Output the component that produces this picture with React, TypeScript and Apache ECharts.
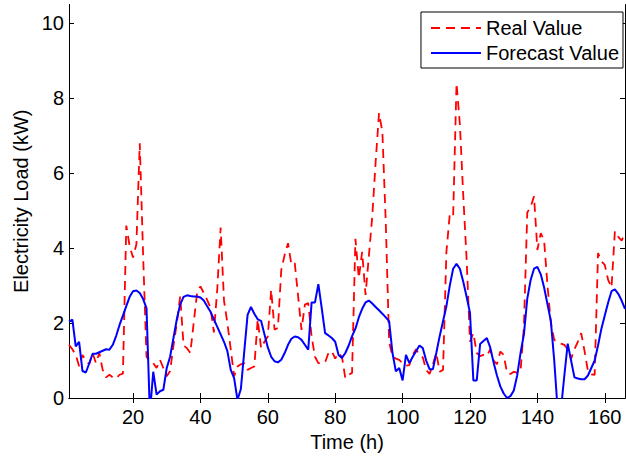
import React, { useEffect, useRef } from "react";
import * as echarts from "echarts";

const hours: number[] = Array.from({ length: 166 }, (_, i) => i + 1);

const realValue: number[] = [
  1.42, 1.3, 1.15, 0.85, 1.15, 1.0, 0.9, 1.2, 0.93, 1.2,
  0.75, 0.55, 0.62, 0.55, 0.52, 0.62, 0.65, 4.6, 4.05, 3.75,
  4.1, 6.8, 3.8, 1.1, 1.0, 0.93, 0.8, 1.02, 0.8, 0.58,
  0.72, 1.4, 2.0, 2.72, 1.4, 1.33, 1.2, 2.0, 2.8, 2.98,
  2.8, 2.62, 2.4, 1.75, 2.9, 4.55, 2.6, 2.0, 1.3, 0.58,
  0.84, 0.9, 0.93, 0.75, 0.8, 0.84, 2.1, 1.33, 1.5, 1.64,
  2.89, 1.82, 1.87, 3.42, 3.82, 4.13, 3.56, 3.6, 2.71, 1.82,
  2.49, 2.53, 1.64, 1.1, 0.93, 0.93, 0.95, 1.2, 1.25, 1.05,
  1.2, 1.1, 0.53, 0.62, 0.67, 4.25, 3.2, 3.9, 2.75, 3.8,
  4.85, 6.3, 7.6, 7.1, 4.7, 1.5, 1.1, 1.05, 1.02, 0.92,
  0.86, 0.88, 1.15, 1.3, 1.15, 1.08, 0.75, 0.64, 0.9, 1.2,
  0.7, 0.75, 3.9, 4.9, 4.85, 8.4, 7.3, 5.4, 3.7, 1.5,
  1.73, 1.2, 1.12, 1.15, 1.12, 1.3, 1.0, 0.9, 1.24, 1.15,
  0.67, 0.64, 0.7, 0.68, 0.72, 1.9, 4.95, 5.1, 5.38, 3.95,
  4.4, 4.2, 3.0, 2.0, 1.55, 1.5, 1.45, 1.42, 1.3, 1.05,
  1.3, 1.5, 1.73, 1.25, 0.72, 0.63, 0.62, 3.87, 3.65, 3.55,
  3.15, 2.95, 4.45, 4.3, 4.2, 4.4,
];

const forecastValue: number[] = [
  2.04, 2.09, 1.38, 1.5, 0.72, 0.68, 0.92, 1.18, 1.18, 1.22,
  1.26, 1.3, 1.29, 1.42, 1.66, 1.95, 2.2, 2.45, 2.7, 2.85,
  2.87, 2.8, 2.64, 2.4, -0.4, 0.7, 0.09, 0.18, 0.22, 0.8,
  1.1, 1.6, 2.1, 2.5, 2.7, 2.74, 2.72, 2.71, 2.71, 2.68,
  2.6, 2.45, 2.3, 2.1, 1.9, 1.7, 1.5, 1.25, 0.75, 0.53,
  -0.05, 0.24, 1.23, 2.22, 2.43, 2.25, 2.1, 2.06, 1.7, 1.35,
  1.1, 0.98, 0.95, 1.02, 1.2, 1.42, 1.58, 1.64, 1.62, 1.55,
  1.42, 1.29, 2.55, 2.55, 3.04, 2.4, 1.73, 1.67, 1.6, 1.5,
  1.15, 1.07, 1.2, 1.4, 1.65, 1.85, 2.15, 2.38, 2.55, 2.6,
  2.52, 2.43, 2.34, 2.25, 2.15, 2.05, 1.2, 0.71, 0.8, 0.47,
  1.15, 0.93, 1.1, 1.25, 1.4, 1.33, 1.0, 0.77, 0.77, 1.2,
  1.65, 2.05, 2.45, 3.0, 3.45, 3.58, 3.45, 3.1, 2.7, 2.27,
  0.47, 0.47, 1.44, 1.52, 1.6, 1.35, 0.95, 0.6, 0.31, 0.12,
  0.0, 0.05, 0.2, 0.6, 1.2, 1.7, 2.65, 3.15, 3.45, 3.5,
  3.3, 2.95, 2.5, 2.05, 1.0, -0.3, -0.3, 0.6, 1.45, 1.0,
  0.55, 0.52, 0.5, 0.5, 0.6, 0.8, 1.0, 1.4, 1.85, 2.2,
  2.55, 2.85, 2.9, 2.78, 2.6, 2.38,
];

const xTicks: number[] = [20, 40, 60, 80, 100, 120, 140, 160];
const yTicks: number[] = [0, 2, 4, 6, 8, 10];

const FONT = "Liberation Sans, Arial, Helvetica, sans-serif";
const FS = 20;

export default function App() {
  const ref = useRef<HTMLDivElement>(null);

  useEffect(() => {
    document.body.style.margin = "0";
    if (!ref.current) return;
    const chart = echarts.init(ref.current, undefined, { renderer: "svg" });
    const axisLine = { show: true, lineStyle: { color: "#000", width: 1 } };
    chart.setOption({
      animation: false,
      backgroundColor: "#fff",
      textStyle: { fontFamily: FONT },
      grid: {
        left: 69,
        right: 1,
        top: 4.5,
        bottom: 59,
        outerBoundsMode: "none",
      },
      legend: {
        orient: "vertical",
        right: 3,
        top: 12,
        backgroundColor: "#fff",
        borderColor: "#000",
        borderWidth: 1,
        borderRadius: 0,
        padding: [6, 4, 5, 9],
        itemWidth: 50,
        itemHeight: 14,
        itemGap: 5,
        itemStyle: { opacity: 0 },
        textStyle: { fontSize: FS, color: "#000", fontFamily: FONT },
        data: ["Real Value", "Forecast Value"],
      },
      xAxis: [
        {
          type: "value",
          min: 1,
          max: 166,
          position: "bottom",
          axisLine,
          splitLine: { show: false },
          axisTick: {
            show: true,
            inside: true,
            length: 5,
            lineStyle: { color: "#000" },
            customValues: xTicks,
          },
          axisLabel: {
            show: true,
            fontSize: FS,
            color: "#000",
            fontFamily: FONT,
            margin: 9,
            customValues: xTicks,
          },
          name: "Time (h)",
          nameLocation: "middle",
          nameGap: 30,
          nameTextStyle: { fontSize: FS, color: "#000", fontFamily: FONT },
        },
        {
          type: "value",
          min: 1,
          max: 166,
          position: "top",
          axisLine,
          splitLine: { show: false },
          axisTick: {
            show: true,
            inside: true,
            length: 5,
            lineStyle: { color: "#000" },
            customValues: xTicks,
          },
          axisLabel: { show: false },
        },
      ],
      yAxis: [
        {
          type: "value",
          min: 0,
          max: 10.5,
          position: "left",
          axisLine,
          splitLine: { show: false },
          axisTick: {
            show: true,
            inside: true,
            length: 5,
            lineStyle: { color: "#000" },
            customValues: yTicks,
          },
          axisLabel: {
            show: true,
            fontSize: FS,
            color: "#000",
            fontFamily: FONT,
            margin: 5,
            customValues: yTicks,
          },
          name: "Electricity Load (kW)",
          nameLocation: "middle",
          nameGap: 36,
          nameTextStyle: { fontSize: FS, color: "#000", fontFamily: FONT },
        },
        {
          type: "value",
          min: 0,
          max: 10.5,
          position: "right",
          axisLine,
          splitLine: { show: false },
          axisTick: {
            show: true,
            inside: true,
            length: 5,
            lineStyle: { color: "#000" },
            customValues: yTicks,
          },
          axisLabel: { show: false },
        },
      ],
      series: [
        {
          name: "Real Value",
          type: "line",
          xAxisIndex: 0,
          yAxisIndex: 0,
          symbol: "none",
          showSymbol: false,
          clip: true,
          lineStyle: { color: "#ff0000", width: 1.8, type: [9, 6] },
          itemStyle: { color: "#ff0000" },
          data: hours.map((h, i) => [h, realValue[i]]),
          z: 2,
        },
        {
          name: "Forecast Value",
          type: "line",
          xAxisIndex: 0,
          yAxisIndex: 0,
          symbol: "none",
          showSymbol: false,
          clip: true,
          lineStyle: { color: "#0000ff", width: 2 },
          itemStyle: { color: "#0000ff" },
          data: hours.map((h, i) => [h, forecastValue[i]]),
          z: 3,
        },
      ],
    });
    return () => chart.dispose();
  }, []);

  return <div ref={ref} style={{ width: 626, height: 457 }} />;
}
